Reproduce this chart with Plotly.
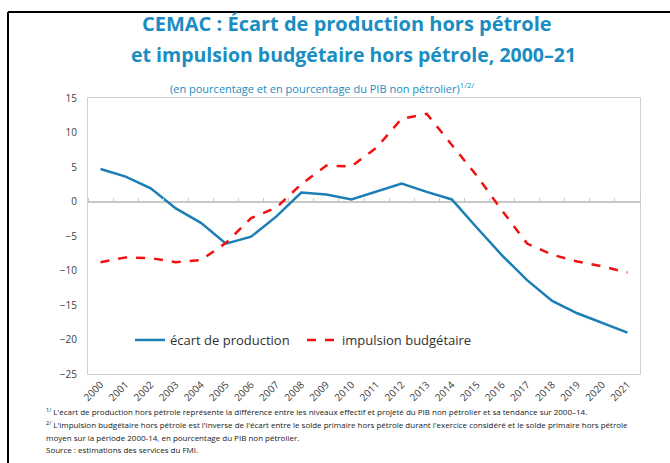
import plotly.graph_objects as go

years = [str(y) for y in range(2000, 2022)]
ecart_production = [4.7, 3.6, 1.9, -1.0, -3.1, -6.1, -5.1, -2.2, 1.3, 1.0, 0.3,
                    1.5, 2.6, 1.4, 0.3, -3.8, -7.8, -11.4, -14.4, -16.2, -17.6, -19.0]
impulsion_budgetaire = [-8.8, -8.1, -8.2, -8.8, -8.5, -6.0, -2.4, -0.9, 2.5, 5.2, 5.1,
                        7.8, 12.0, 12.7, 8.2, 3.7, -1.3, -6.1, -7.7, -8.7, -9.4, -10.3]

title_l1 = "CEMAC : Écart de production hors pétrole"
title_l2 = "et impulsion budgétaire hors pétrole, 2000–21"
subtitle = "(en pourcentage et en pourcentage du PIB non pétrolier)<sup>1/2/</sup>"
footnotes = [
    "<sup>1/</sup> L'écart de production hors pétrole représente la différence entre les niveaux effectif et projeté du PIB non pétrolier et sa tendance sur 2000–14.",
    "<sup>2/</sup> L'impulsion budgétaire hors pétrole est l'inverse de l'écart entre le solde primaire hors pétrole durant l'exercice considéré et le solde primaire hors pétrole",
    "moyen sur la période 2000-14, en pourcentage du PIB non pétrolier.",
    "Source : estimations des services du FMI.",
]

BLUE = "#1b7fb5"
RED = "#f01010"
TITLE_C = "#1a8dc2"
FONT = "Open Sans"

W, H = 670, 463
ml, mr, mt, mb = 88, 30, 98, 89
pw, ph = W - ml - mr, H - mt - mb

def px_x(x):
    return (x - ml) / pw

def px_y(y):
    return (H - mb - y) / ph

fig = go.Figure()
fig.add_trace(go.Scatter(x=years, y=ecart_production, mode="lines", name="écart de production",
                         line=dict(color=BLUE, width=2.5)))
fig.add_trace(go.Scatter(x=years, y=impulsion_budgetaire, mode="lines", name="impulsion budgétaire",
                         line=dict(color=RED, width=2.5, dash="dash")))
# hidden trace to carry the zero-line tick axis
fig.add_trace(go.Scatter(x=years, y=[None] * len(years), xaxis="x2", showlegend=False,
                         hoverinfo="skip", mode="lines"))

fig.update_layout(
    width=W, height=H,
    margin=dict(l=ml, r=mr, t=mt, b=mb),
    paper_bgcolor="white", plot_bgcolor="white",
    font=dict(family=FONT, color="#404040"),
    showlegend=True,
    legend=dict(orientation="h", x=px_x(130), y=px_y(340), yanchor="middle", xanchor="left",
                font=dict(size=13, color="#303030"), bgcolor="rgba(0,0,0,0)",
                entrywidth=127, itemwidth=30),
    xaxis=dict(type="category", tickangle=-45, ticks="", showgrid=False, zeroline=False,
               showline=True, mirror=True, linecolor="#d0d0d0", linewidth=1,
               tickfont=dict(size=10, color="#404040"), range=[-0.5, 21.5]),
    xaxis2=dict(type="category", overlaying="x", anchor="free", position=0.625, side="top",
                showticklabels=False, ticks="outside", ticklen=4, tickcolor="#c8c8c8",
                tickson="boundaries", showgrid=False, zeroline=False, showline=False,
                range=[-0.5, 21.5]),
    yaxis=dict(range=[-25, 15], dtick=5, showgrid=False, zeroline=True, zerolinecolor="#c8c8c8",
               zerolinewidth=1.5, showline=True, mirror=True, linecolor="#d0d0d0", linewidth=1,
               ticks="", tickfont=dict(size=10, color="#404040"), ticklabelstandoff=8),
)

ann = []
ann.append(dict(text=f"<b>{title_l1}</b>", x=px_x(347), y=px_y(24), xref="paper", yref="paper",
                showarrow=False, xanchor="center", yanchor="middle",
                font=dict(size=20, color=TITLE_C, family=FONT)))
ann.append(dict(text=f"<b>{title_l2}</b>", x=px_x(353), y=px_y(55), xref="paper", yref="paper",
                showarrow=False, xanchor="center", yanchor="middle",
                font=dict(size=19.5, color=TITLE_C, family=FONT)))
ann.append(dict(text=subtitle, x=px_x(322), y=px_y(88), xref="paper", yref="paper",
                showarrow=False, xanchor="center", yanchor="middle",
                font=dict(size=11, color=TITLE_C, family=FONT)))
for i, (t, yy) in enumerate(zip(footnotes, [411, 424, 437, 449])):
    ann.append(dict(text=t, x=px_x(44), y=px_y(yy), xref="paper", yref="paper",
                    showarrow=False, xanchor="left", yanchor="middle",
                    font=dict(size=8, color="#202020", family=FONT)))
fig.update_layout(annotations=ann)

# outer frame (top and left black border)
fig.add_shape(type="line", xref="paper", yref="paper", x0=px_x(8), x1=px_x(670),
              y0=px_y(12), y1=px_y(12), line=dict(color="black", width=2))
fig.add_shape(type="line", xref="paper", yref="paper", x0=px_x(8), x1=px_x(8),
              y0=px_y(12), y1=px_y(463), line=dict(color="black", width=2))

fig.write_html("out.html", post_script="document.body.style.margin='0';",
               config={"displayModeBar": False})
